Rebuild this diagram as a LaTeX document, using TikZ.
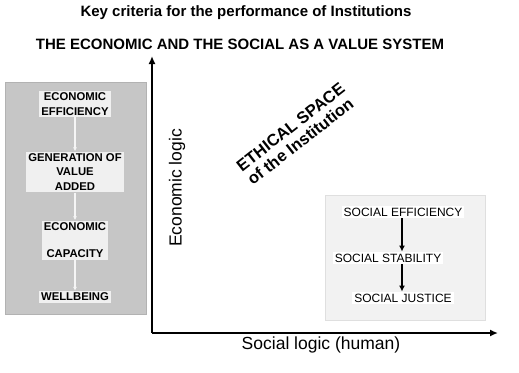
\documentclass[tikz,border=0pt]{standalone}
\usepackage{fontspec}
\setmainfont{Liberation Sans}
\usetikzlibrary{arrows.meta,positioning}

\begin{document}
\begin{tikzpicture}[x=1pt,y=-1pt,
    % styles for the two columns and the axes
    econ/.style={fill=gray!12, inner sep=2pt, align=center, font=\fontsize{11.3}{14.5}\selectfont\bfseries},
    soc/.style={fill=white, inner sep=2pt, align=center, font=\fontsize{12}{14}\selectfont},
    econbox/.style={fill=gray!45, draw=gray!60},
    socbox/.style={fill=gray!10, draw=gray!25},
    axis/.style={-{Latex[length=8pt,width=7pt]}, line width=2.4pt},
    faint/.style={-{Latex[length=4pt,width=4pt]}, line width=1.5pt, draw=gray!8},
    arrow/.style={-{Latex[length=6pt,width=6pt]}, line width=2.2pt},
    title/.style={font=\fontsize{15}{17}\selectfont\bfseries},
    axislabel/.style={font=\fontsize{17.5}{20}\selectfont}
]
\useasboundingbox (0,0) rectangle (519,372);

% Titles
\node[title] (maintitle) at (246,13) {Key criteria for the performance of Institutions};
\node[font=\fontsize{15}{17}\selectfont\bfseries] (subtitle) at (240,44) {THE ECONOMIC AND THE SOCIAL AS A VALUE SYSTEM};

% Axes
\coordinate (origin) at (152,333);
\coordinate (ytop) at (152,56);
\coordinate (xend) at (498,333);
\draw[axis] (origin) -- (ytop);
\draw[axis] (origin) -- (xend);
\node[axislabel, rotate=90] (ylabel) at (177,188) {Economic logic};
\node[axislabel] (xlabel) at (321,345) {Social logic (human)};

% Economic column
\fill[econbox] (5,82) rectangle (146,314);
\node[econ] (effic) at (75,104) {ECONOMIC\\EFFICIENCY};
\node[econ] (value) at (75,172) {GENERATION OF\\VALUE\\ADDED};
\node[econ, font=\fontsize{11.3}{27}\selectfont\bfseries] (capac) at (75,240) {ECONOMIC\\CAPACITY};
\node[econ] (well) at (75,297) {WELLBEING};
\draw[faint] (effic) -- (value);
\draw[faint] (value) -- (capac);
\draw[faint] (capac) -- (well);

% Social column
\fill[socbox] (325,195) rectangle (485,320);
\node[soc] (seffic) at (403,212) {SOCIAL EFFICIENCY};
\node[soc] (sstab) at (388,258) {SOCIAL STABILITY};
\node[soc] (sjust) at (403,298) {SOCIAL JUSTICE};
\draw[arrow] (seffic.south -| 402,0) -- (sstab.north -| 402,0);
\draw[arrow] (sstab.south -| 402,0) -- (sjust.north -| 402,0);

% Ethical space
\node[font=\fontsize{16.5}{17.5}\selectfont\bfseries, align=left, rotate=38] (ethic) at (296,134) {ETHICAL SPACE\\of the Institution};

\end{tikzpicture}
\end{document}
